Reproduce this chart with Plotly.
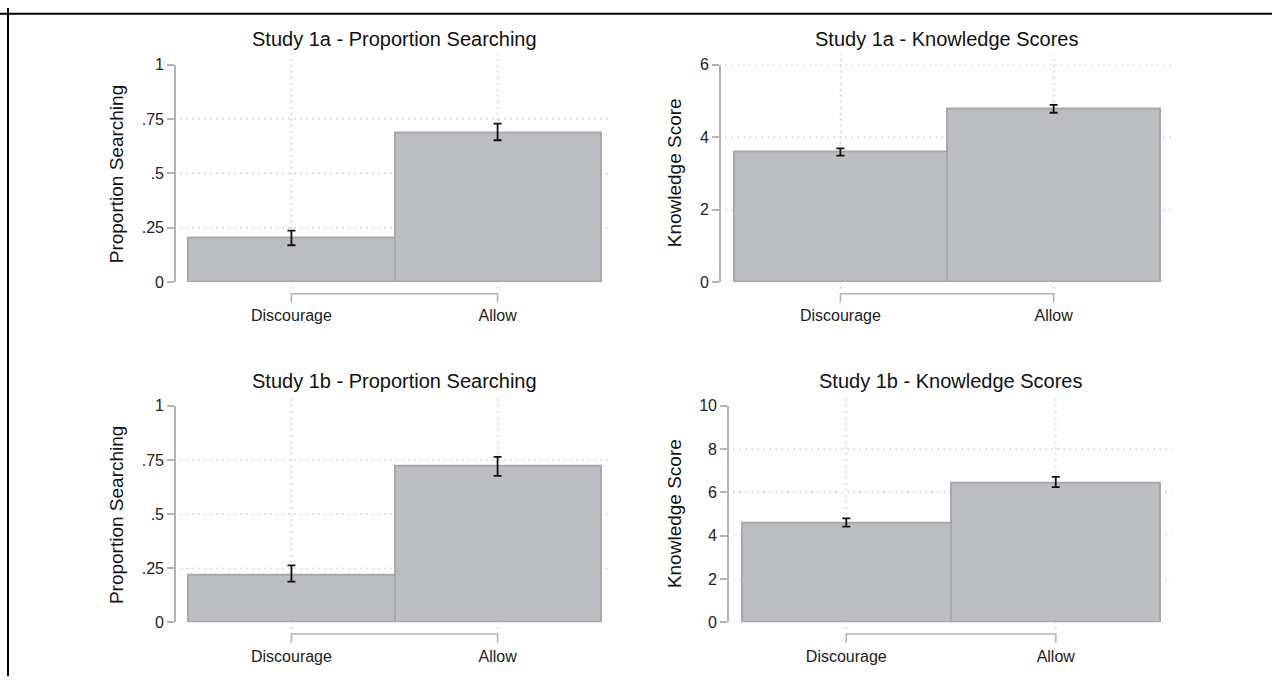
import plotly.graph_objects as go

W, H = 1272, 685

# ---------------- data ----------------
categories = ["Discourage", "Allow"]

titles = ["Study 1a - Proportion Searching", "Study 1a - Knowledge Scores",
          "Study 1b - Proportion Searching", "Study 1b - Knowledge Scores"]
y_titles = ["Proportion Searching", "Knowledge Score",
            "Proportion Searching", "Knowledge Score"]

s1a_prop_mean = [0.203, 0.688]
s1a_prop_lo = [0.169, 0.652]
s1a_prop_hi = [0.236, 0.728]

s1a_know_mean = [3.59, 4.78]
s1a_know_lo = [3.49, 4.67]
s1a_know_hi = [3.69, 4.89]

s1b_prop_mean = [0.218, 0.722]
s1b_prop_lo = [0.188, 0.677]
s1b_prop_hi = [0.263, 0.764]

s1b_know_mean = [4.60, 6.46]
s1b_know_lo = [4.42, 6.25]
s1b_know_hi = [4.80, 6.72]

prop_tickvals = [0, 0.25, 0.5, 0.75, 1]
prop_ticktext = ["0", ".25", ".5", ".75", "1"]
know1a_tickvals = [0, 2, 4, 6]
know1b_tickvals = [0, 2, 4, 6, 8, 10]
prop_grid = [0.25, 0.5, 0.75]
know1a_grid = [2, 4, 6]
know1b_grid = [2, 4, 6, 8]

# ---------------- layout helpers ----------------
def px_x(x):
    return x / W

def px_y(y):
    return 1 - y / H

panels = [
    dict(mean=s1a_prop_mean, lo=s1a_prop_lo, hi=s1a_prop_hi, yr=[0, 1],
         tv=prop_tickvals, tt=prop_ticktext, grid=prop_grid,
         dx=(176, 612), dy=(58, 281), ytx=116),
    dict(mean=s1a_know_mean, lo=s1a_know_lo, hi=s1a_know_hi, yr=[0, 6],
         tv=know1a_tickvals, tt=[str(v) for v in know1a_tickvals], grid=know1a_grid,
         dx=(721, 1172), dy=(58, 281), ytx=674),
    dict(mean=s1b_prop_mean, lo=s1b_prop_lo, hi=s1b_prop_hi, yr=[0, 1],
         tv=prop_tickvals, tt=prop_ticktext, grid=prop_grid,
         dx=(176, 612), dy=(408, 630), ytx=116),
    dict(mean=s1b_know_mean, lo=s1b_know_lo, hi=s1b_know_hi, yr=[0, 10],
         tv=know1b_tickvals, tt=[str(v) for v in know1b_tickvals], grid=know1b_grid,
         dx=(729, 1172), dy=(408, 630), ytx=674),
]

FONT = "Liberation Sans, Arial, sans-serif"
AXIS_COL = "#b3b3b3"
GRID_COL = "#bdbdbd"
BAR_FILL = "#bcbdc1"
BAR_LINE = "#a7a8ac"

fig = go.Figure()
shapes = []
annotations = []
xpos = list(range(len(categories)))

for i, p in enumerate(panels):
    n = "" if i == 0 else str(i + 1)
    xa, ya = "x" + n, "y" + n
    up = [h - m for h, m in zip(p["hi"], p["mean"])]
    dn = [m - l for m, l in zip(p["mean"], p["lo"])]
    fig.add_trace(go.Bar(
        x=xpos, y=p["mean"], width=1, xaxis=xa, yaxis=ya,
        marker=dict(color=BAR_FILL, line=dict(color=BAR_LINE, width=2)),
        error_y=dict(type="data", symmetric=False, array=up, arrayminus=dn,
                     color="#111111", thickness=1.8, width=4),
        showlegend=False, hoverinfo="skip"))

    dom_x = [px_x(p["dx"][0]), px_x(p["dx"][1])]
    dom_y = [px_y(p["dy"][1]), px_y(p["dy"][0])]
    xkey = "xaxis" + n
    ykey = "yaxis" + n
    fig.update_layout(**{
        xkey: dict(domain=dom_x, anchor=ya, range=[-0.56, 1.555],
                   tickvals=xpos, ticktext=categories, showline=False,
                   showgrid=False, zeroline=False, ticks="outside", ticklen=19,
                   tickcolor="rgba(0,0,0,0)",
                   tickfont=dict(family=FONT, size=16, color="#222222"),
                   fixedrange=True),
        ykey: dict(domain=dom_y, anchor=xa, range=p["yr"], tickvals=p["tv"],
                   ticktext=p["tt"], showline=True, linecolor=AXIS_COL, linewidth=1.6,
                   ticks="outside", ticklen=7, tickwidth=1.6, tickcolor=AXIS_COL,
                   showgrid=False, zeroline=False,
                   tickfont=dict(family=FONT, size=16, color="#222222"),
                   fixedrange=True),
    })

    for g in p["grid"]:
        shapes.append(dict(type="line", xref=xa + " domain", yref=ya,
                           x0=0.01, x1=1, y0=g, y1=g, layer="below",
                           line=dict(color=GRID_COL, width=1.2, dash="1.5px,4.5px")))
    for xv in xpos:
        shapes.append(dict(type="line", xref=xa, yref=ya + " domain",
                           x0=xv, x1=xv, y0=-0.03, y1=1.05, layer="below",
                           line=dict(color=GRID_COL, width=1.2, dash="1.5px,4.5px")))
    yb = px_y(p["dy"][1] + 12)
    yt = px_y(p["dy"][1] + 21)
    shapes.append(dict(type="path", xref=xa, yref="paper",
                       path=f"M {xpos[0]},{yt} L {xpos[0]},{yb} L {xpos[-1]},{yb} L {xpos[-1]},{yt}",
                       line=dict(color=AXIS_COL, width=1.6)))

    annotations.append(dict(text=titles[i], xref="paper", yref="paper",
                            x=(dom_x[0] + dom_x[1]) / 2, y=px_y(p["dy"][0] - 26),
                            xanchor="center", yanchor="middle", showarrow=False,
                            font=dict(family=FONT, size=20, color="#111111")))
    annotations.append(dict(text=y_titles[i], xref="paper", yref="paper",
                            x=px_x(p["ytx"]), y=(dom_y[0] + dom_y[1]) / 2,
                            xanchor="center", yanchor="middle", textangle=-90,
                            showarrow=False,
                            font=dict(family=FONT, size=19, color="#111111")))

shapes.append(dict(type="line", xref="paper", yref="paper", x0=0, x1=1,
                   y0=px_y(6), y1=px_y(6), line=dict(color="#000000", width=2)))
shapes.append(dict(type="line", xref="paper", yref="paper", x0=px_x(8), x1=px_x(8),
                   y0=0, y1=1, line=dict(color="#000000", width=2)))

fig.update_layout(
    width=W, height=H, margin=dict(l=0, r=0, t=0, b=0),
    paper_bgcolor="white", plot_bgcolor="white",
    bargap=0, shapes=shapes, annotations=annotations,
    font=dict(family=FONT),
)

post = (
    "var de=document.documentElement, b=document.body;"
    "de.style.margin='0';de.style.padding='0';de.style.overflow='hidden';"
    "b.style.margin='0';b.style.padding='0';b.style.overflow='hidden';"
    "var d=document.getElementsByClassName('plotly-graph-div')[0];"
    "d.style.position='fixed';d.style.top='0px';d.style.left='0px';"
)
fig.write_html("out.html", config={"displayModeBar": False}, post_script=post)
